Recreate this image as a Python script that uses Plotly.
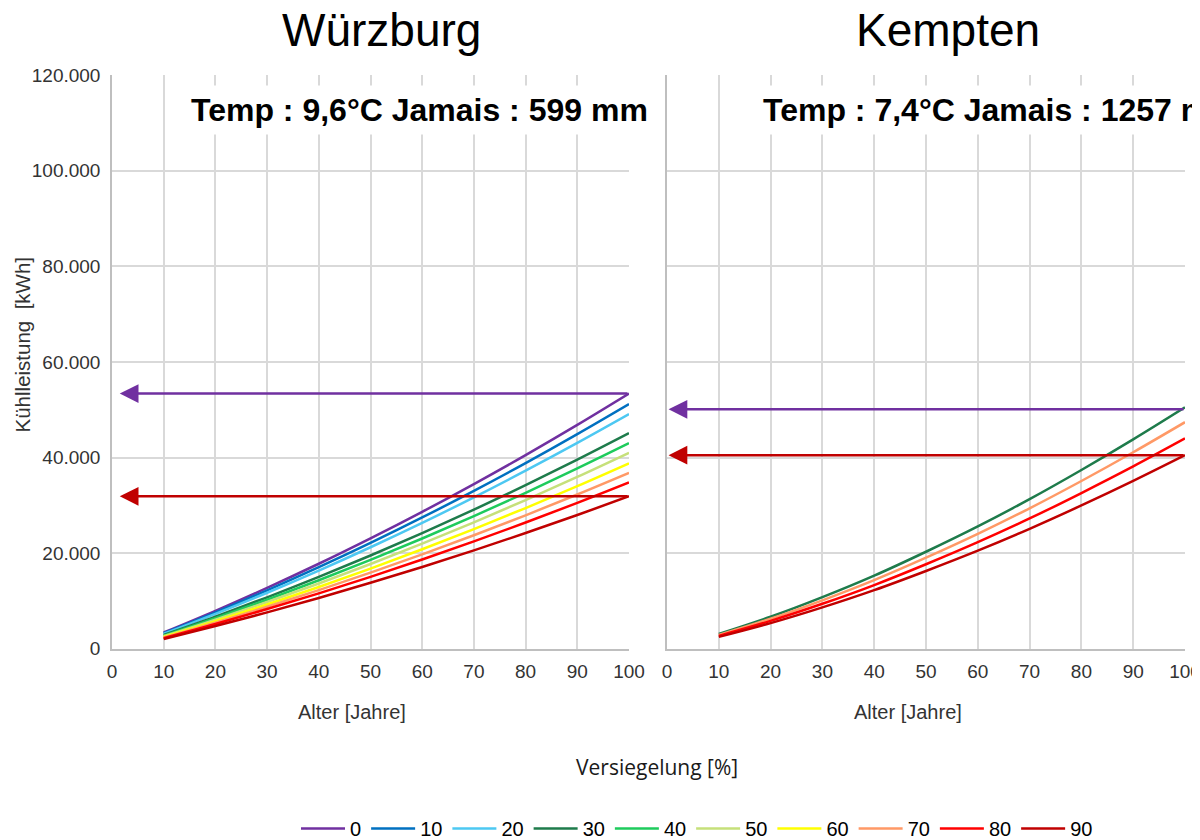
import plotly.graph_objects as go

# ---------------- data ----------------
ages = [10, 20, 30, 40, 50, 60, 70, 80, 90, 100]
sealing_labels = ["0", "10", "20", "30", "40", "50", "60", "70", "80", "90"]
series_colors = ["#7030A0", "#0070C0", "#4DC8F2", "#1E7B4B", "#1ECB5C",
                 "#C6E07A", "#FFFF00", "#FF9966", "#FF0000", "#C00000"]

# Würzburg – Kühlleistung [kWh] per Versiegelung
wue_0 = [3410, 7950, 12750, 17790, 23100, 28650, 34460, 40520, 46840, 53400]
wue_10 = [3270, 7620, 12220, 17060, 22140, 27470, 33040, 38850, 44910, 51200]
wue_20 = [3140, 7310, 11720, 16360, 21240, 26340, 31680, 37260, 43070, 49100]
wue_30 = [2880, 6720, 10770, 15030, 19510, 24200, 29100, 34220, 39560, 45100]
wue_40 = [2750, 6400, 10260, 14330, 18600, 23070, 27750, 32630, 37720, 43000]
wue_50 = [2620, 6100, 9790, 13660, 17730, 22000, 26460, 31110, 35960, 41000]
wue_60 = [2480, 5780, 9260, 12930, 16780, 20820, 25040, 29440, 34030, 38800]
wue_70 = [2350, 5480, 8780, 12260, 15920, 19740, 23750, 27920, 32280, 36800]
wue_80 = [2220, 5180, 8310, 11600, 15050, 18670, 22460, 26410, 30520, 34800]
wue_90 = [2040, 4750, 7610, 10630, 13800, 17110, 20590, 24210, 27980, 31900]

# Kempten
kem_30 = [3100, 6700, 10800, 15300, 20300, 25600, 31300, 37400, 43800, 50500]
kem_70 = [2910, 6290, 10140, 14360, 19050, 24030, 29380, 35100, 41110, 47400]
kem_80 = [2700, 5840, 9410, 13330, 17680, 22300, 27260, 32580, 38150, 44000]
kem_90 = [2490, 5370, 8660, 12270, 16280, 20530, 25100, 29990, 35120, 40500]

# arrows (level in kWh)
wue_arrow_levels = [53400, 31900]
kem_arrow_levels = [50100, 40500]
arrow_colors = ["#7030A0", "#C00000"]
arrow_tip_x = [1.5, 0.3]
arrow_tail_x = 100

city_titles = ["Würzburg", "Kempten"]
climate_texts = ["Temp : 9,6°C Jamais : 599 mm", "Temp : 7,4°C Jamais : 1257 mm"]
x_title = "Alter [Jahre]"
y_title = "Kühlleistung  [kWh]"
legend_title = "Versiegelung [%]"

x_ticks = [0, 10, 20, 30, 40, 50, 60, 70, 80, 90, 100]
y_ticks = [0, 20000, 40000, 60000, 80000, 100000, 120000]

# ---------------- figure ----------------
OFF = 8          # page body margin
W, H = 1200, 840
PAGE_H = 848     # rendered page height (captured and fitted into 840)
def px_x(p):
    return (p - OFF) / W
def px_y(p):
    return 1 - (p * PAGE_H / H - OFF) / H

wue_series = [wue_0, wue_10, wue_20, wue_30, wue_40, wue_50, wue_60, wue_70, wue_80, wue_90]
kem_series = {"30": kem_30, "70": kem_70, "80": kem_80, "90": kem_90}

fig = go.Figure()
for lab, vals, col in zip(sealing_labels, wue_series, series_colors):
    fig.add_trace(go.Scatter(x=ages, y=vals, mode="lines", name=lab,
                             line=dict(color=col, width=2.5, shape="spline"),
                             xaxis="x", yaxis="y", legendgroup=lab))
for lab, vals in kem_series.items():
    col = series_colors[sealing_labels.index(lab)]
    fig.add_trace(go.Scatter(x=ages, y=vals, mode="lines", name=lab,
                             line=dict(color=col, width=2.5, shape="spline"),
                             xaxis="x2", yaxis="y2", legendgroup=lab, showlegend=False))

tick_font = dict(family="Liberation Sans, Arial", size=19, color="#333333")
grid_col = "#D9D9D9"
axis_col = "#BFBFBF"
y_dom = [px_y(648), px_y(75)]

common_x = dict(range=[0, 100], tickvals=x_ticks, showgrid=True, gridcolor=grid_col,
                gridwidth=1.5, showline=True, linecolor=axis_col, linewidth=1.5,
                zeroline=False, tickfont=tick_font, ticks="", ticklabelstandoff=5,
                automargin=False, fixedrange=True)
common_y = dict(range=[0, 120000], tickvals=y_ticks, showgrid=True, gridcolor=grid_col,
                gridwidth=1.5, showline=True, linecolor=axis_col, linewidth=1.5,
                zeroline=False, tickfont=tick_font, ticks="", tickformat=",d",
                automargin=False, fixedrange=True)

fig.update_layout(
    width=W, height=H,
    margin=dict(l=0, r=0, t=0, b=0),
    paper_bgcolor="white", plot_bgcolor="white",
    separators=",.",
    xaxis=dict(domain=[px_x(112), px_x(629)], anchor="y", **common_x),
    xaxis2=dict(domain=[px_x(667), px_x(1185)], anchor="y2", **common_x),
    yaxis=dict(domain=y_dom, anchor="x", ticklabelstandoff=6, **common_y),
    yaxis2=dict(domain=y_dom, anchor="x2", showticklabels=False, **common_y),
    showlegend=True,
    legend=dict(orientation="h", x=px_x(697), xanchor="center", y=px_y(828), yanchor="middle",
                font=dict(family="Liberation Sans, Arial", size=20, color="#000000"),
                itemwidth=44, traceorder="normal", bgcolor="rgba(0,0,0,0)"),
)

annotations = []
# titles
for title, cx in zip(city_titles, [381, 948]):
    annotations.append(dict(text=title, xref="paper", yref="paper", x=px_x(cx), y=px_y(30),
                            xanchor="center", yanchor="middle", showarrow=False,
                            font=dict(family="Liberation Sans, Arial", size=46, color="#000000")))
# climate boxes
for txt, lx in zip(climate_texts, [184, 756]):
    annotations.append(dict(text="<b>" + txt + "</b>", xref="paper", yref="paper",
                            x=px_x(lx), y=px_y(110), xanchor="left", yanchor="middle",
                            showarrow=False, bgcolor="white", borderpad=6,
                            font=dict(family="Liberation Sans, Arial", size=32, color="#000000")))
# x titles
for cx in [352, 908]:
    annotations.append(dict(text=x_title, xref="paper", yref="paper", x=px_x(cx), y=px_y(711),
                            xanchor="center", yanchor="middle", showarrow=False,
                            font=dict(family="Liberation Sans, Arial", size=20, color="#333333")))
# y title
annotations.append(dict(text=y_title, xref="paper", yref="paper", x=px_x(22), y=px_y(345),
                        xanchor="center", yanchor="middle", showarrow=False, textangle=-90,
                        font=dict(family="Liberation Sans, Arial", size=20.5, color="#333333")))
# legend title
annotations.append(dict(text=legend_title, xref="paper", yref="paper", x=px_x(657), y=px_y(766),
                        xanchor="center", yanchor="middle", showarrow=False,
                        font=dict(family="Open Sans, DejaVu Sans", size=21, color="#1a1a1a")))
# arrows
for (xr, yr), levels, tip in zip([("x", "y"), ("x2", "y2")],
                                 [wue_arrow_levels, kem_arrow_levels], arrow_tip_x):
    for lvl, col in zip(levels, arrow_colors):
        annotations.append(dict(text="", xref=xr, yref=yr, x=tip, y=lvl,
                                axref=xr, ayref=yr, ax=arrow_tail_x, ay=lvl,
                                showarrow=True, arrowhead=2, arrowsize=1.5,
                                arrowwidth=2.5, arrowcolor=col, standoff=0))
fig.update_layout(annotations=annotations)

fig.write_html("out.html")
